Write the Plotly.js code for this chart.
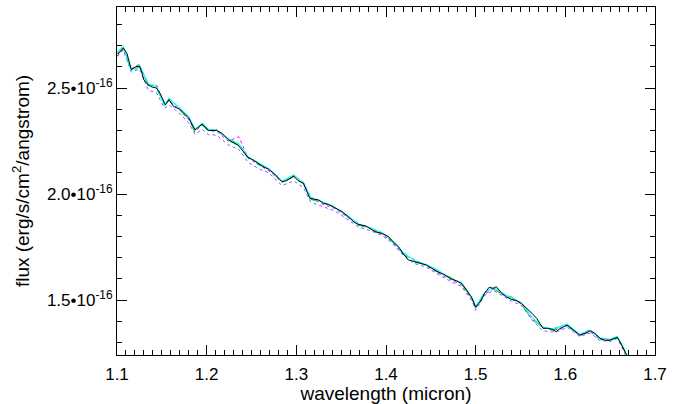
<!DOCTYPE html>
<html>
<head>
<meta charset="utf-8">
<script src="https://cdn.plot.ly/plotly-3.0.1.min.js"></script>
<style>html,body{margin:0;padding:0;background:#fff;}#chart{width:680px;height:404px;}</style>
</head>
<body>
<div id="chart"></div>
<script>
// Black (main) spectrum, flux in units of 1e-16 erg/s/cm^2/angstrom
const wavelengthMain = [1.101,1.107,1.111,1.116,1.121,1.125,1.127,1.130,1.135,1.139,1.144,1.148,1.154,1.158,1.163,1.170,1.180,1.187,1.195,1.202,1.211,1.217,1.224,1.232,1.235,1.241,1.246,1.252,1.258,1.263,1.269,1.276,1.284,1.289,1.297,1.302,1.308,1.312,1.315,1.319,1.325,1.330,1.336,1.343,1.351,1.358,1.364,1.369,1.377,1.382,1.388,1.395,1.403,1.406,1.414,1.419,1.425,1.432,1.440,1.445,1.451,1.458,1.466,1.473,1.479,1.484,1.490,1.496,1.500,1.505,1.510,1.515,1.520,1.523,1.529,1.535,1.540,1.546,1.551,1.557,1.563,1.568,1.572,1.575,1.581,1.585,1.590,1.594,1.602,1.609,1.616,1.622,1.628,1.633,1.639,1.644,1.650,1.654,1.658,1.661,1.665,1.668,1.670];
const fluxMain = [2.660,2.689,2.664,2.587,2.601,2.603,2.583,2.538,2.514,2.505,2.500,2.475,2.420,2.446,2.413,2.400,2.358,2.302,2.330,2.300,2.300,2.286,2.257,2.239,2.231,2.200,2.173,2.160,2.142,2.129,2.117,2.094,2.058,2.063,2.085,2.063,2.050,2.011,1.980,1.976,1.972,1.956,1.951,1.935,1.917,1.893,1.869,1.857,1.850,1.838,1.822,1.815,1.799,1.783,1.751,1.720,1.689,1.681,1.673,1.665,1.650,1.633,1.618,1.599,1.590,1.579,1.547,1.508,1.467,1.491,1.532,1.560,1.555,1.563,1.532,1.513,1.503,1.497,1.484,1.461,1.437,1.414,1.390,1.367,1.367,1.362,1.351,1.366,1.382,1.358,1.335,1.343,1.355,1.343,1.319,1.311,1.311,1.319,1.324,1.303,1.272,1.245,1.217];

// Coloured comparison spectra (coarser sampling)
const wavelengthAlt = [1.100,1.107,1.116,1.125,1.135,1.144,1.153,1.158,1.170,1.180,1.187,1.195,1.202,1.211,1.224,1.236,1.246,1.258,1.269,1.284,1.297,1.308,1.316,1.330,1.343,1.358,1.369,1.382,1.395,1.406,1.419,1.432,1.445,1.458,1.471,1.484,1.496,1.500,1.510,1.520,1.529,1.540,1.551,1.563,1.575,1.585,1.594,1.602,1.616,1.628,1.638,1.650,1.658,1.665,1.670];
const fluxCyan = [2.668,2.695,2.582,2.608,2.520,2.508,2.415,2.452,2.405,2.365,2.305,2.334,2.305,2.302,2.262,2.236,2.176,2.146,2.120,2.060,2.090,2.052,1.985,1.962,1.938,1.895,1.860,1.842,1.820,1.785,1.724,1.686,1.667,1.640,1.603,1.583,1.511,1.470,1.536,1.560,1.535,1.508,1.488,1.418,1.372,1.364,1.375,1.388,1.338,1.358,1.322,1.315,1.328,1.275,1.220];
const fluxGreen = [2.660,2.685,2.580,2.600,2.512,2.498,2.425,2.440,2.395,2.355,2.290,2.325,2.296,2.305,2.252,2.228,2.168,2.138,2.120,2.055,2.080,2.048,1.975,1.958,1.940,1.890,1.855,1.835,1.812,1.780,1.718,1.678,1.670,1.630,1.610,1.576,1.505,1.460,1.530,1.552,1.530,1.515,1.480,1.410,1.370,1.358,1.372,1.380,1.332,1.365,1.317,1.310,1.322,1.270,1.215];
const fluxMagenta = [2.650,2.682,2.590,2.612,2.508,2.516,2.418,2.440,2.398,2.350,2.296,2.325,2.298,2.296,2.250,2.270,2.170,2.140,2.110,2.056,2.082,2.055,1.985,1.950,1.932,1.888,1.853,1.840,1.812,1.778,1.716,1.690,1.662,1.628,1.598,1.573,1.502,1.462,1.528,1.553,1.528,1.505,1.482,1.408,1.372,1.360,1.362,1.380,1.333,1.350,1.315,1.308,1.326,1.268,1.212];
const fluxBlue = [2.648,2.678,2.575,2.590,2.490,2.478,2.405,2.420,2.380,2.335,2.282,2.305,2.280,2.278,2.232,2.210,2.150,2.120,2.100,2.040,2.062,2.030,1.962,1.942,1.920,1.878,1.845,1.828,1.806,1.772,1.712,1.672,1.655,1.622,1.590,1.565,1.495,1.452,1.522,1.545,1.522,1.495,1.475,1.405,1.355,1.350,1.355,1.372,1.328,1.345,1.310,1.305,1.318,1.262,1.210];

const xTickVals = [1.1,1.2,1.3,1.4,1.5,1.6,1.7];
const xTickText = ['1.1','1.2','1.3','1.4','1.5','1.6','1.7'];
const yTickVals = [1.5,2.0,2.5];
const yTickText = ['1.5•10<sup>-16</sup>','2.0•10<sup>-16</sup>','2.5•10<sup>-16</sup>'];

const traces = [
  {x: wavelengthAlt, y: fluxBlue, mode:'lines', line:{color:'#6a6aff', width:1, dash:'dot'}},
  {x: wavelengthAlt, y: fluxMagenta, mode:'lines', line:{color:'#ff00ff', width:1, dash:'dot'}},
  {x: wavelengthAlt, y: fluxGreen, mode:'lines', line:{color:'#00e000', width:1, dash:'dash'}},
  {x: wavelengthAlt, y: fluxCyan, mode:'lines', line:{color:'#00ffff', width:1.2}},
  {x: wavelengthMain, y: fluxMain, mode:'lines', line:{color:'#000000', width:1}}
];

const fontFam = 'Liberation Sans, Arial, Helvetica, sans-serif';
const layout = {
  width: 680, height: 404,
  margin: {l:117, r:25, t:7, b:49},
  showlegend: false,
  paper_bgcolor:'#fff', plot_bgcolor:'#fff',
  font: {family: fontFam, size: 17, color:'#000'},
  xaxis: {
    range:[1.1,1.7], showgrid:false, zeroline:false,
    showline:true, linecolor:'#000', linewidth:1, mirror:'ticks',
    ticks:'inside', ticklen:10, tickcolor:'#000',
    tickvals:xTickVals, ticktext:xTickText,
    minor:{ticks:'inside', dtick:0.01, tick0:1.1, ticklen:5, tickcolor:'#000', showgrid:false},
    tickfont:{size:17}, ticklabelstandoff:4,
    title:{text:'wavelength (micron)', font:{size:19}, standoff:0}
  },
  yaxis: {
    range:[1.241,2.882], showgrid:false, zeroline:false,
    showline:true, linecolor:'#000', linewidth:1, mirror:'ticks',
    ticks:'inside', ticklen:10, tickcolor:'#000',
    tickvals:yTickVals, ticktext:yTickText,
    minor:{ticks:'inside', dtick:0.1, tick0:1.5, ticklen:5, tickcolor:'#000', showgrid:false},
    tickfont:{size:17},
    title:{text:'flux (erg/s/cm<sup>2</sup>/angstrom)', font:{size:19}, standoff:12}
  }
};
Plotly.newPlot('chart', traces, layout, {staticPlot:true, displayModeBar:false});
</script>
</body>
</html>
